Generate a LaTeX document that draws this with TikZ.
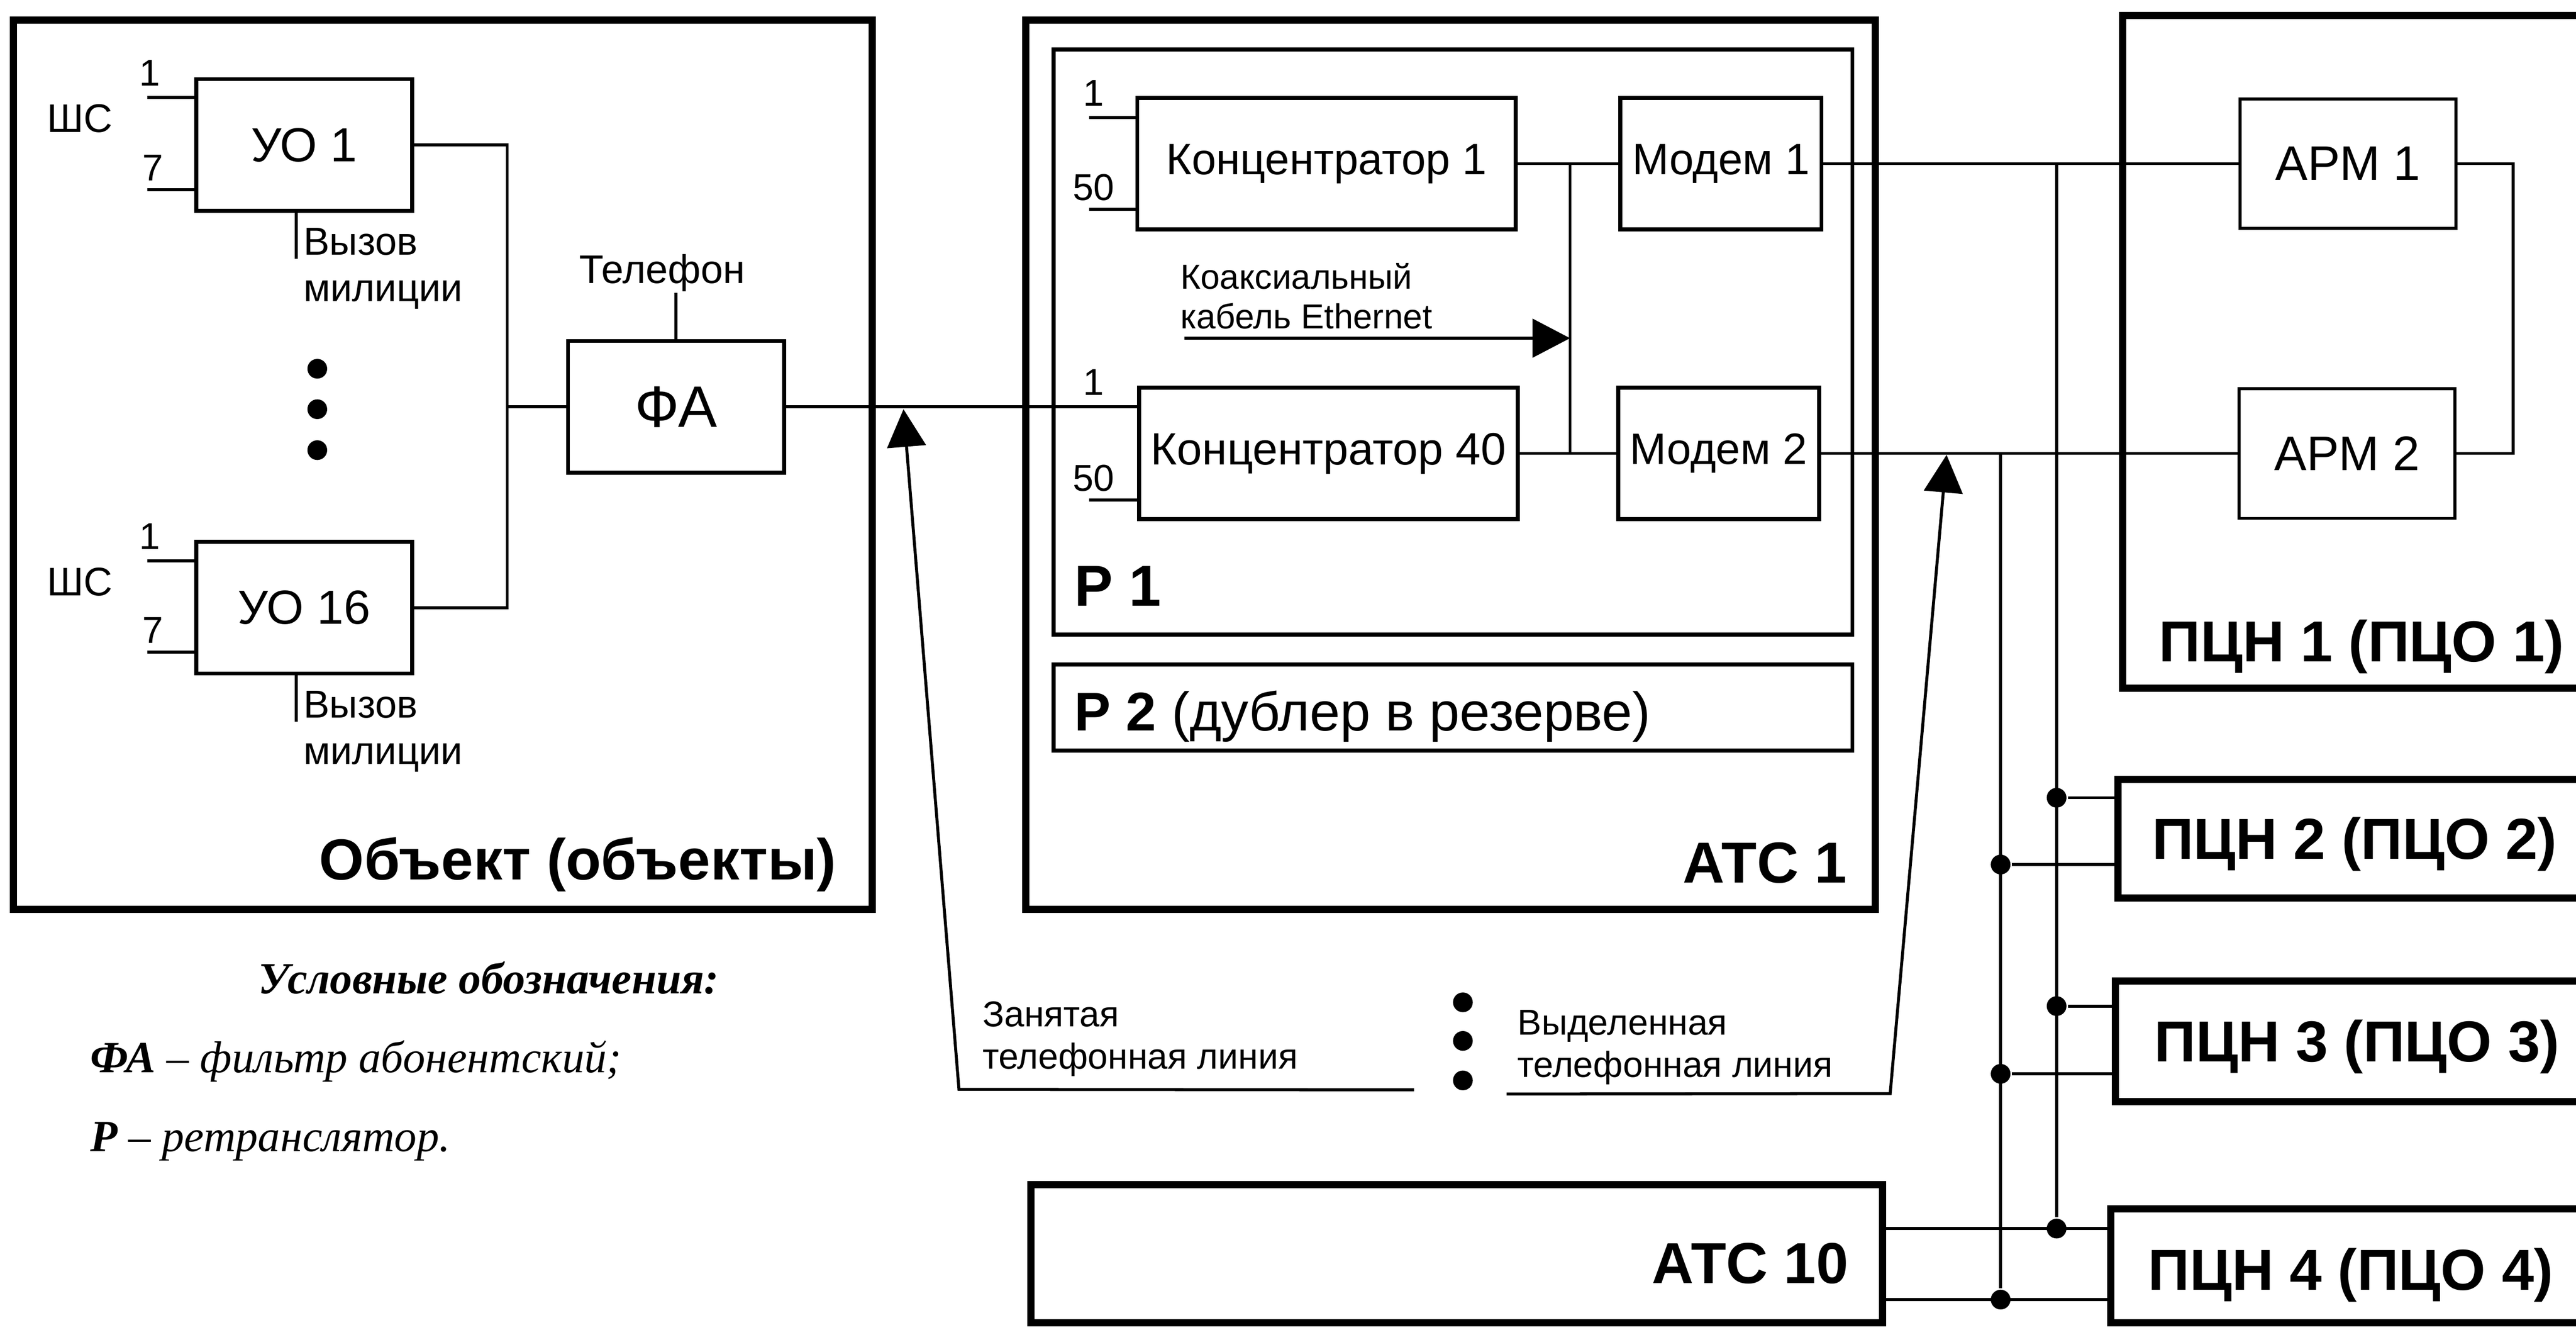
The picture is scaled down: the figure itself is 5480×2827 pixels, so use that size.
\documentclass[tikz,border=0pt]{standalone}
\usepackage{fontspec}
\setmainfont{Liberation Sans}
\newfontfamily\legendfont{Liberation Serif}
\usetikzlibrary{arrows.meta}

\begin{document}
\begin{tikzpicture}[x=0.005cm, y=-0.005cm, line width=0.9pt, >={Triangle[length=0.4cm, width=0.41cm]}]
    \tikzstyle{site}=[draw, line width=2.2pt, inner sep=0pt]
    \tikzstyle{relay}=[draw, line width=1.2pt, inner sep=0pt]
    \tikzstyle{block}=[draw, line width=1.2pt, inner sep=0pt, minimum height=1.4cm, font=\fontsize{13.3}{16}\selectfont]
    \tikzstyle{dot}=[circle, fill=black, inner sep=0pt, minimum size=0.21cm]
    \tikzstyle{pinlabel}=[font=\fontsize{11.3}{13}\selectfont, inner sep=0pt]
    \tikzstyle{note}=[font=\fontsize{10.9}{12.8}\selectfont, align=left, inner sep=0pt]
    \tikzstyle{call}=[font=\fontsize{11.8}{14}\selectfont, align=left, inner sep=0pt]
    \tikzstyle{sitelabel}=[font=\fontsize{17.5}{20}\selectfont\bfseries, inner sep=0pt]
    \tikzstyle{legend}=[font=\legendfont\itshape\fontsize{13.5}{16}\selectfont, inner sep=0pt, anchor=base west]
    \useasboundingbox (0,0) rectangle (5480,2827);

    % Draw the sites
    \node[site, minimum width=9.145cm, minimum height=9.465cm] (obj) at (942,988) {};
    \node[site, minimum width=9.045cm, minimum height=9.465cm] (atc1) at (3086,988) {};
    \node[site, minimum width=9.07cm, minimum height=1.47cm] (atc10) at (3099,2665) {};
    \node[site, minimum width=4.9cm, minimum height=7.155cm] (pcn1) at (5005,748) {};
    \node[site, minimum width=4.95cm, minimum height=1.265cm] (pcn2) at (5000,1783) {};
    \node[site, minimum width=4.975cm, minimum height=1.28cm] (pcn3) at (4997,2214) {};
    \node[site, minimum width=5.025cm, minimum height=1.21cm] (pcn4) at (4992,2691) {};
    \node[relay, minimum width=8.505cm, minimum height=6.225cm] (r1) at (3091,727) {};
    \node[relay, minimum width=8.505cm, minimum height=0.915cm] (r2) at (3091,1504) {};

    % Draw the blocks
    \node[block, minimum width=2.3cm, font=\fontsize{14.5}{17}\selectfont] (uo1) at (647,308) {УО 1};
    \node[block, minimum width=2.3cm, font=\fontsize{14.5}{17}\selectfont] (uo16) at (647,1292) {УО 16};
    \node[block, minimum width=2.3cm, font=\fontsize{17.7}{20}\selectfont] (fa) at (1438,865) {ФА};
    \node[block, minimum width=4.03cm] (k1) at (2822,348) {Концентратор 1};
    \node[block, minimum width=4.03cm, font=\fontsize{13.7}{16}\selectfont] (k40) at (2826,964) {Концентратор 40};
    \node[block, minimum width=2.14cm] (m1) at (3661,348) {Модем 1};
    \node[block, minimum width=2.14cm] (m2) at (3656,964) {Модем 2};
    \node[block, line width=0.9pt, minimum width=2.3cm, minimum height=1.38cm, font=\fontsize{14.7}{17}\selectfont] (arm1) at (4995,348) {АРМ 1};
    \node[block, line width=0.9pt, minimum width=2.3cm, minimum height=1.38cm, font=\fontsize{14.7}{17}\selectfont] (arm2) at (4993,964) {АРМ 2};

    % Annotate the sites
    \node[sitelabel, anchor=base east] (objlab) at (1782,1870) {Объект (объекты)};
    \node[sitelabel, anchor=base east] (atc1lab) at (3932,1877) {АТС 1};
    \node[sitelabel, anchor=base east] (atc10lab) at (3935,2728) {АТС 10};
    \node[sitelabel, anchor=base west] (r1lab) at (2283,1288) {Р 1};
    \node[sitelabel, anchor=base west, font=\fontsize{16.5}{20}\selectfont] (r2lab) at (2283,1554) {\textbf{Р 2} (дублер в резерве)};
    \foreach \n/\x/\y in {1/4590/1407, 2/4575/1826, 3/4580/2257, 4/4567/2743}
        \node[sitelabel, anchor=base west] (pcn\n lab) at (\x,\y) {ПЦН \n\ (ПЦО \n)};

    % Signal loops of the object devices
    \foreach \u/\ya/\yb/\ys in {uo1/207/403/252, uo16/1192/1386/1237} {
        \coordinate (\u-a) at (313,\ya);
        \coordinate (\u-b) at (313,\yb);
        \draw (\u-a) -- (\u-a -| \u.west);
        \draw (\u-b) -- (\u-b -| \u.west);
        \node[pinlabel] (\u-na) at ([shift={(5,-52)}]\u-a) {1};
        \node[pinlabel] (\u-nb) at ([shift={(12,-46)}]\u-b) {7};
        \node[pinlabel, font=\fontsize{12.1}{14}\selectfont] (\u-sc) at (170,\ys) {ШС};
        \draw ([xshift=-0.085cm]\u.south) -- ++(0,98);
        \node[call, anchor=north west] (\u-call) at ([shift={(-4,30)}]\u.south) {Вызов\\милиции};
    }
    \foreach \i/\y in {1/784, 2/870, 3/957}
        \node[dot] (od\i) at (675,\y) {};

    % Connect the object devices with the filter
    \coordinate (objbus) at (1079,865);
    \draw (uo1.east) -| (objbus) |- (uo16.east);
    \draw (objbus) -- (fa.west);
    \node[font=\fontsize{12.1}{14}\selectfont, inner sep=0pt] (tel) at (1409,580) {Телефон};
    \draw (fa.north) -- (fa.north |- tel.south);

    % Concentrator inputs
    \foreach \k/\ya/\yb in {k1/250/445, k40/865/1063} {
        \coordinate (\k-a) at (2317,\ya);
        \coordinate (\k-b) at (2317,\yb);
        \draw (\k-a) -- (\k-a -| \k.west);
        \draw (\k-b) -- (\k-b -| \k.west);
        \node[pinlabel] (\k-na) at ([shift={(9,-52)}]\k-a) {1};
        \node[pinlabel] (\k-nb) at ([shift={(9,-46)}]\k-b) {50};
    }
    \draw (fa.east) -- (fa.east -| k40.west);

    % Concentrators to modems
    \coordinate (kbus) at (3340,0);
    \draw (k1.east) -- (m1.west);
    \draw (k40.east) -- (m2.west);
    \draw (k1.east -| kbus) -- (k40.east -| kbus);
    \coordinate (coax) at (2520,719);
    \draw[->] (coax) -- (coax -| kbus);
    \node[note, font=\fontsize{10.5}{12}\selectfont, anchor=north west] (coaxtxt) at (2508,556) {Коаксиальный\\кабель Ethernet};

    % Modems to the workstations
    \draw (m1.east) -- (arm1.west);
    \draw (m2.east) -- (arm2.west);
    \coordinate (armbus) at (5346,0);
    \draw (arm1.east) -| (armbus |- arm2.east) -- (arm2.east);

    % Branches to the other monitoring stations
    \foreach \n/\yb/\ya in {2/1696/1838, 3/2139/2283} {
        \node[dot] (b\n) at (4375,\yb) {};
        \node[dot] (a\n) at (4256,\ya) {};
        \draw (b\n) -- (b\n -| pcn\n.west);
        \draw (a\n) -- (a\n -| pcn\n.west);
    }
    \node[dot] (b4) at (4375,2612) {};
    \node[dot] (a4) at (4256,2763) {};
    \draw (b4 -| atc10.east) -- (b4 -| pcn4.west);
    \draw (a4 -| atc10.east) -- (a4 -| pcn4.west);
    \draw (m1.east -| b4) -- (b4);
    \draw (m2.east -| a4) -- (a4);

    % Telephone line callouts
    \coordinate (busyend) at (3008,2317);
    \coordinate (busybend) at (2040,2316);
    \coordinate (busytip) at (1922,870);
    \draw[->] (busyend) -- (busybend) -- (busytip);
    \node[note, anchor=north west] (busytxt) at (2087,2126) {Занятая\\телефонная линия};
    \coordinate (leasedend) at (3205,2326);
    \coordinate (leasedbend) at (4021,2325);
    \coordinate (leasedtip) at (4141,967);
    \draw[->] (leasedend) -- (leasedbend) -- (leasedtip);
    \node[note, anchor=north west] (leasedtxt) at (3225,2144) {Выделенная\\телефонная линия};
    \foreach \i/\y in {1/2131, 2/2213, 3/2297}
        \node[dot] (ld\i) at (3112,\y) {};

    % Legend
    \node[legend, font=\legendfont\bfseries\itshape\fontsize{13.5}{16}\selectfont] (leg) at (547,2113) {Условные обозначения:};
    \node[legend] (legfa) at (189,2280) {\textbf{ФА} – фильтр абонентский;};
    \node[legend] (legr) at (189,2448) {\textbf{Р} – ретранслятор.};
\end{tikzpicture}
\end{document}
